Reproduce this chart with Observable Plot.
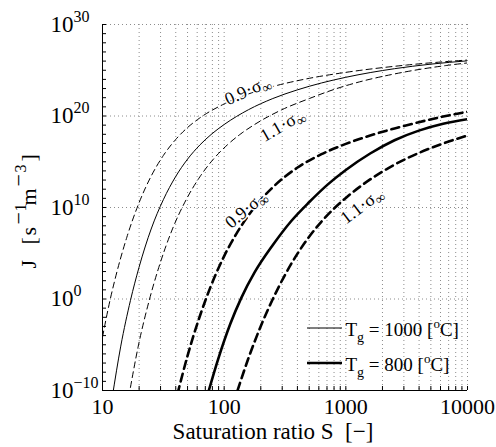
<!DOCTYPE html>
<html>
<head>
<meta charset="utf-8">
<script src="https://cdn.jsdelivr.net/npm/d3@7"></script>
<script src="https://cdn.jsdelivr.net/npm/@observablehq/plot@0.6"></script>
<style>
  html, body { margin: 0; padding: 0; background: #fff; font-family: "Liberation Serif"; }
  svg text { white-space: pre; }
</style>
</head>
<body>
<div id="chart"></div>
<script>
// ---- Data (S = saturation ratio, J given as log10 exponent) ----
// Tg = 1000 °C (thin lines)
const s1000_09 = [10, 11.59, 12.59, 15.85, 19.95, 25.12, 31.62, 39.81, 50.12, 63.10, 100, 158.5, 251.2, 501.2, 1000, 3162, 10000];
const j1000_09 = [-4.16, 0, 2.0, 6.75, 10.5, 13.43, 15.68, 17.41, 18.75, 19.79, 21.32, 22.41, 23.22, 24.12, 24.77, 25.57, 26.12];
const s1000    = [12.02, 14.13, 16.98, 19.95, 25.12, 31.62, 39.81, 50.12, 63.10, 79.43, 100, 158.5, 251.2, 398.1, 631.0, 1000, 2512, 5012, 10000];
const j1000    = [-10.75, -5.15, -0.15, 3.45, 7.65, 10.85, 13.35, 15.3, 16.83, 18.06, 19.07, 20.69, 21.91, 22.85, 23.61, 24.23, 25.17, 25.67, 26.03];
const s1000_11 = [16.41, 19.68, 24.21, 29.01, 37.58, 48.70, 63.10, 81.75, 105.9, 137.2, 177.8, 298.5, 501.2, 841.4, 1413, 2371, 6683, 10000];
const j1000_11 = [-10.75, -5.15, -0.15, 3.45, 7.65, 10.85, 13.35, 15.3, 16.83, 18.06, 19.07, 20.69, 21.91, 23.0, 23.86, 24.53, 25.52, 25.8];
// Tg = 800 °C (thick lines)
const s800_09 = [41.30, 50.12, 70.79, 100, 125.9, 158.5, 199.5, 251.2, 316.2, 398.1, 631.0, 1000, 1585, 2512, 3981, 6310, 10000];
const j800_09 = [-10.39, -6.15, 0, 4.69, 7.12, 9.14, 10.82, 12.21, 13.37, 14.34, 15.83, 16.95, 17.87, 18.64, 19.32, 19.94, 20.47];
const s800    = [72.95, 89.13, 112.2, 138.0, 177.8, 251.2, 354.8, 501.2, 707.9, 1000, 1585, 2512, 3981, 6310, 10000];
const j800    = [-10.5, -6.6, -2.74, 0.1, 2.9, 5.9, 8.5, 10.6, 12.5, 14.1, 15.9, 17.35, 18.4, 19.15, 19.65];
const s800_11 = [128.8, 158.5, 199.5, 251.2, 316.2, 398.1, 501.2, 631.0, 794.3, 1000, 1585, 2512, 3981, 6310, 10000];
const j800_11 = [-10.0, -6.45, -3.0, 0, 2.63, 4.9, 6.83, 8.46, 9.85, 11.05, 13.07, 14.68, 15.96, 17.0, 17.87];

// Curve labels
const curveLabelText  = ["0.9·σ∞", "1.1·σ∞", "0.9·σ∞", "1.1·σ∞"];
const curveLabelS     = [156, 301, 151, 1352];
const curveLabelJ     = [22.8, 19.0, 9.8, 10.2];
const curveLabelAngle = [-24, -30, -40, -37];

// Axis ticks
const xTickLabels = [10, 100, 1000, 10000];
const yTickExp = [-10, 0, 10, 20, 30];
const xGrid = [20,30,40,50,60,70,80,90,100,200,300,400,500,600,700,800,900,1000,2000,3000,4000,5000,6000,7000,8000,9000,10000];
const yGridExp = [0, 10, 20, 30];
const yMinorExp = d3.range(-10, 31);
const legendTemps = [1000, 800];
const xLabel = "Saturation ratio S\u00a0\u00a0[−]";
const yLabel = "J [s-1m-3]";

// ---- Build ----
const curves = [
  {S: s1000_09, E: j1000_09, w: 1,   dash: "6,4"},
  {S: s1000,    E: j1000,    w: 1,   dash: null},
  {S: s1000_11, E: j1000_11, w: 1,   dash: "6,4"},
  {S: s800_09,  E: j800_09,  w: 2.6, dash: "8,5"},
  {S: s800,     E: j800,     w: 2.6, dash: null},
  {S: s800_11,  E: j800_11,  w: 2.6, dash: "8,5"}
];

const FONT = "Liberation Serif";
const marks = [];
marks.push(Plot.ruleX(xGrid, {x: d => d, stroke: "#8c8c8c", strokeDasharray: "1,3"}));
marks.push(Plot.ruleY(yGridExp.map(e => 10 ** e), {y: d => d, stroke: "#8c8c8c", strokeDasharray: "1,3"}));

for (const c of curves) {
  const data = c.S.map((s, i) => ({S: s, J: 10 ** c.E[i]}));
  marks.push(Plot.line(data, {
    x: "S", y: "J", stroke: "black", strokeWidth: c.w,
    strokeDasharray: c.dash ?? undefined, curve: "monotone-x", clip: true
  }));
}

marks.push(Plot.text(curveLabelText.map((t, i) => ({t, S: curveLabelS[i], J: 10 ** curveLabelJ[i], a: curveLabelAngle[i]})), {
  x: "S", y: "J", text: "t", rotate: "a", fontSize: 18, fontFamily: FONT, fill: "black",
  stroke: "white", strokeWidth: 3, paintOrder: "stroke"
}));

// axis lines and inward ticks
marks.push(Plot.ruleX([10], {x: d => d, stroke: "black"}));
marks.push(Plot.ruleY([1e-10], {y: d => d, stroke: "black"}));
marks.push(Plot.tickY(yMinorExp.map(e => 10 ** e), {y: d => d, insetRight: 361, stroke: "black"}));
marks.push(Plot.tickX([10, ...xGrid], {x: d => d, insetTop: 362, stroke: "black"}));

// tick labels
marks.push(Plot.axisX(xTickLabels, {tickSize: 0, tickPadding: 8, tickFormat: d3.format("d"), fontSize: 22, fontFamily: FONT, label: null}));
marks.push(Plot.axisY(yTickExp.map(e => 10 ** e), {
  tickSize: 0, tickPadding: 52, textAnchor: "start", fontSize: 23, fontFamily: FONT, label: null,
  tickFormat: d => "10^" + String(Math.round(Math.log10(d))).replace("-", "−")
}));

// axis titles
marks.push(Plot.text([xLabel], {frameAnchor: "bottom", dx: -12, dy: 48, text: d => d, lineAnchor: "bottom", fontSize: 23, fontFamily: FONT, fill: "black"}));
marks.push(Plot.text([yLabel], {frameAnchor: "left", dx: -67, dy: 61, text: d => d, rotate: -90, textAnchor: "start", lineAnchor: "bottom", fontSize: 22, fontFamily: FONT, fill: "black"}));

// legend texts
marks.push(Plot.text([legendTemps[0]], {frameAnchor: "bottom-left", dx: 243, dy: -55, text: d => `Tg = ${d} [oC]`, textAnchor: "start", lineAnchor: "bottom", fontSize: 19, fontFamily: FONT, fill: "black"}));
marks.push(Plot.text([legendTemps[1]], {frameAnchor: "bottom-left", dx: 243, dy: -20, text: d => `Tg = ${d} [oC]`, textAnchor: "start", lineAnchor: "bottom", fontSize: 19, fontFamily: FONT, fill: "black"}));

const plot = Plot.plot({
  width: 496, height: 447,
  marginLeft: 102, marginRight: 29, marginTop: 24, marginBottom: 57,
  x: {type: "log", domain: [10, 10000], label: null},
  y: {type: "log", domain: [1e-10, 1e30], label: null},
  style: "font-family: 'Liberation Serif'; font-size: 22px; background: white; color: black; overflow: visible;",
  marks
});
document.getElementById("chart").appendChild(plot);

// ---- rich text (superscripts / subscripts) ----
const svg = d3.select(plot);
svg.attr("font-family", FONT);
function rebuild(el, parts) {
  const sel = d3.select(el);
  sel.text(null);
  for (const p of parts) {
    const ts = sel.append("tspan").text(p.t);
    if (p.size) ts.attr("font-size", p.size);
    if (p.dy !== undefined) ts.attr("dy", p.dy);
    if (p.x !== undefined) ts.attr("x", p.x);
    if (p.y !== undefined) ts.attr("y", p.y);
  }
}
svg.selectAll("text").each(function () {
  const t = this.textContent;
  let m;
  if ((m = t.match(/^10\^(.+)$/))) {
    rebuild(this, [{t: "10"}, {t: m[1], size: 16, dy: -10}]);
  } else if ((m = t.match(/^(\d\.\d·σ)∞$/))) {
    rebuild(this, [{t: m[1]}, {t: "∞", size: 14, dy: 4}]);
  } else if ((m = t.match(/^Tg = (\d+) \[oC\]$/))) {
    rebuild(this, [{t: "T"}, {t: "g", size: 14, dy: 6}, {t: ` = ${m[1]} [`, dy: -6}, {t: "o", size: 13, dy: -8}, {t: "C]", dy: 8}]);
  } else if (t === yLabel) {
    rebuild(this, [
      {t: "J", x: 0, y: 0},
      {t: "[", x: 24, y: 0},
      {t: "s", x: 33, y: 0},
      {t: "−", x: 44, y: -10},
      {t: "1", x: 57, y: -10, size: 16},
      {t: "m", x: 63, y: 0},
      {t: "−", x: 82, y: -10},
      {t: "3", x: 96, y: -10, size: 16},
      {t: "]", x: 107, y: 0}
    ]);
  }
});
svg.selectAll("text").attr("font-family", FONT);

// legend line samples
svg.append("line").attr("x1", 307).attr("x2", 342).attr("y1", 328).attr("y2", 328).attr("stroke", "black").attr("stroke-width", 1);
svg.append("line").attr("x1", 307).attr("x2", 342).attr("y1", 363).attr("y2", 363).attr("stroke", "black").attr("stroke-width", 2.6);
</script>
</body>
</html>
